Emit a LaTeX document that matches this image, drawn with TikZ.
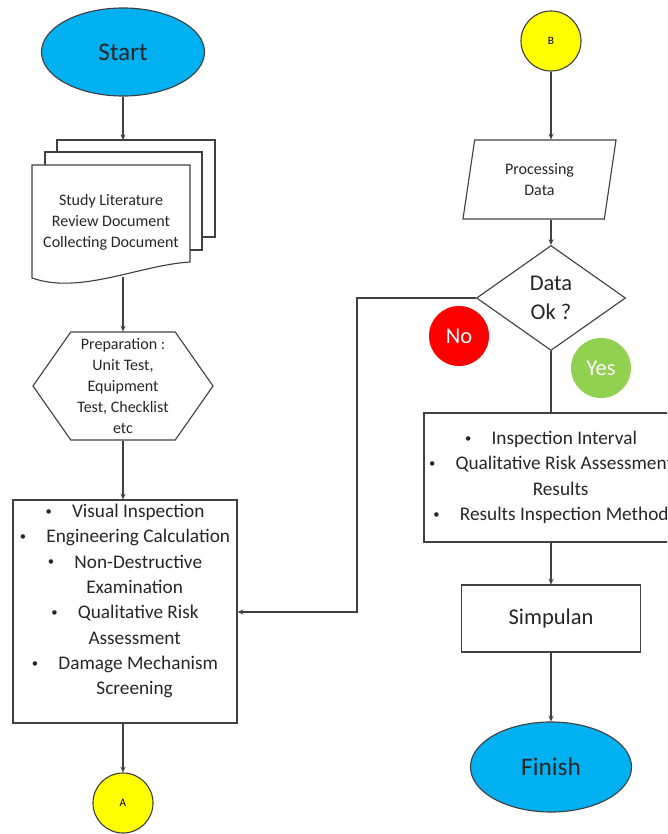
\documentclass[tikz,border=0pt]{standalone}
\usepackage{fontspec}
\setmainfont{Carlito}
\usetikzlibrary{positioning,shapes.geometric,shapes.symbols,arrows.meta}

\definecolor{termBlue}{HTML}{00B0F0}
\definecolor{connYellow}{HTML}{FFFF00}
\definecolor{noRed}{HTML}{FF0000}
\definecolor{yesGreen}{HTML}{92D050}
\definecolor{lineGray}{HTML}{404040}

\newcommand{\lbul}{\raisebox{0.12em}{\fontsize{9}{9}\selectfont\textbullet}\hspace{1.05em}}

\tikzset{
  term/.style={ellipse, draw=lineGray, fill=termBlue, inner sep=0pt, text=black!85, font=\fontsize{18}{22}\selectfont},
  conn/.style={circle, draw=lineGray, fill=connYellow, minimum size=1.5cm, inner sep=0pt, font=\fontsize{8}{10}\selectfont},
  answer/.style={circle, minimum size=1.5cm, inner sep=0pt, text=white, font=\fontsize{16}{19}\selectfont},
  small/.style={align=center, text=black!85, font=\fontsize{11.4}{14.9}\selectfont},
  list/.style={draw=lineGray, align=center, inner sep=0pt, text=black!85, font=\fontsize{13.7}{18}\selectfont},
  big/.style={draw=lineGray, align=center, inner sep=0pt, text=black!85, font=\fontsize{16}{20.6}\selectfont},
  arr/.style={draw=lineGray, -{Stealth[length=4pt,width=3.5pt]}},
  link/.style={draw=lineGray},
}

\begin{document}
\begin{tikzpicture}[x=0.025cm, y=-0.025cm, line width=0.8pt]

\useasboundingbox (0,0) rectangle (667,834);
\clip (0,0) rectangle (667,834);

% left column
\node[term, minimum width=4.075cm, minimum height=2.2cm] (start) at (123,52) {Start};

\draw[link, fill=white] (57,140) rectangle (215,237);
\draw[link, fill=white] (45,152) rectangle (202,250);
\draw[link, fill=white] (32,165) -- (190,165) -- (190,262) .. controls (140,265) and (80,295) .. (32,278) -- cycle;
\node[small] (lit) at (111,222) {Study Literature\\Review Document\\Collecting Document};
\coordinate (littop) at (123,140);
\coordinate (litbot) at (123,277);

\node[signal, signal to=west and east, signal pointer angle=110, draw=lineGray, small, inner sep=0pt,
      minimum width=4.5cm, minimum height=2.7cm] (prep) at (123,386)
      {Preparation :\\Unit Test,\\Equipment\\Test, Checklist\\etc};

\node[list, minimum width=5.6cm, minimum height=5.575cm] (scr) at (125,611.5)
  {\lbul Visual Inspection\\
   \lbul Engineering Calculation\\
   \lbul Non-Destructive\\
   \hspace*{1em}Examination\\
   \lbul Qualitative Risk\\
   \hspace*{1em}Assessment\\
   \lbul Damage Mechanism\\
   \hspace*{1em}Screening\\[-1pt]\mbox{}};

\node[conn] (a) at (123,803) {A};

% right column
\node[conn] (b) at (551,41) {B};

\node[trapezium, trapezium left angle=70, trapezium right angle=110, trapezium stretches body,
      draw=lineGray, small, inner sep=0pt, minimum width=3.825cm, minimum height=1.975cm] (proc) at (539.5,179.5)
      {Processing\\Data};

\node[diamond, big, minimum width=3.725cm, minimum height=2.625cm] (ok) at (551,298) {Data\\Ok ?};

\node[answer, fill=noRed] (no) at (459,336) {No};
\node[answer, fill=yesGreen] (yes) at (601,368) {Yes};

\node[list, minimum width=6.35cm, minimum height=3.225cm] (res) at (551,477.5)
  {\lbul Inspection Interval\\
   \lbul Qualitative Risk Assessment\\
   \hspace*{1em}Results\\
   \lbul Results Inspection Method};

\node[big, minimum width=4.475cm, minimum height=1.675cm] (sim) at (551,618.5) {Simpulan};

\node[term, minimum width=4.025cm, minimum height=2.25cm] (finish) at (551,767) {Finish};

\coordinate (bend) at (357,612);

\draw[arr] (start) -- (littop);
\draw[arr] (litbot) -- (prep.north);
\draw[arr] (prep.south) -- (prep.south |- scr.north);
\draw[arr] (scr.south -| a) -- (a);

\draw[arr] (b) -- (b |- proc.north);
\draw[arr] (proc.south -| ok) -- (ok);
\draw[arr] (ok.west) -| (bend) -- (scr.east |- bend);
\draw[link] (ok) -- (res);
\draw[arr] (res) -- (sim);
\draw[arr] (sim) -- (finish);

\end{tikzpicture}
\end{document}
